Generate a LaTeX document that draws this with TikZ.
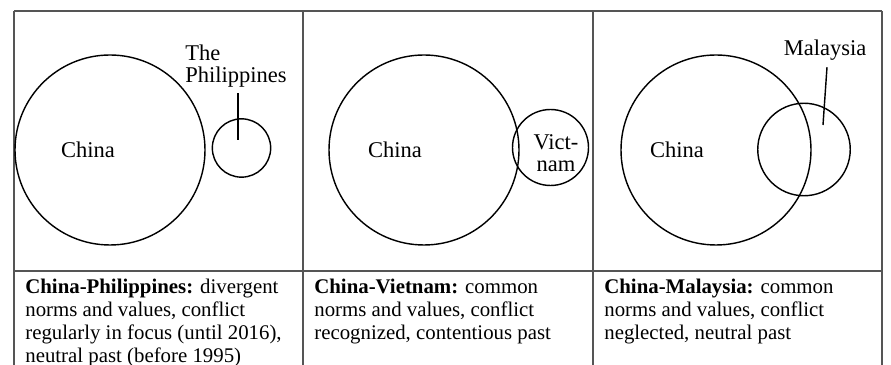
\documentclass[tikz,border=0pt]{standalone}
\usepackage{fontspec}
\setmainfont{Liberation Serif}
\usepackage{tikz}
\usetikzlibrary{positioning,calc}
\usepackage{xcolor}
\definecolor{rulegrey}{RGB}{85,85,85}

\begin{document}
\begin{tikzpicture}[
  x=0.6pt, y=-0.6pt,
  country/.style={draw, circle, line width=0.85pt, inner sep=0pt},
  tag/.style={font=\fontsize{13.5}{13}\selectfont, inner sep=1pt},
  caption/.style={anchor=north west, align=left, inner sep=0pt, font=\fontsize{12.5}{13.8}\selectfont},
  rule/.style={draw=rulegrey, line width=0.7pt},
]
  \useasboundingbox (0,0) rectangle (891,365);
  % table frame
  \foreach \x in {14,303,593,882}
    \draw[rule] (\x,11) -- (\x,365);
  \draw[rule] (14,11) -- (882,11);
  \draw[rule] (14,271) -- (882,271);

  % China - Philippines
  \node[country, minimum size=114pt] (cn1) at (110,150) {};
  \node[country, minimum size=35pt] (ph) at (241.5,148) {};
  \node[tag] (cn1lab) at (88,150) {China};
  \node[tag, align=left] (phlab) at (236,66) {The\\Philippines};
  \coordinate (phtip) at (238,140);
  \draw[line width=0.85pt] ([yshift=-2.5pt]phlab.south -| phtip) -- (phtip);
  \node[caption] (cap1) at (25,279) {\textbf{China-Philippines:} divergent\\norms and values, conflict\\regularly in focus (until 2016),\\neutral past (before 1995)};

  % China - Vietnam
  \node[country, minimum size=114pt] (cn2) at (424,150) {};
  \node[country, minimum size=45.6pt] (vn) at (550.5,147.5) {};
  \node[tag] (cn2lab) at (395,150) {China};
  \node[tag, align=center] (vnlab) at (556,153) {Vict-\\nam};
  \node[caption] (cap2) at (314,279) {\textbf{China-Vietnam:} common\\norms and values, conflict\\recognized, contentious past};

  % China - Malaysia
  \node[country, minimum size=114pt] (cn3) at (716,150) {};
  \node[country, minimum size=55.5pt] (my) at (804,149.5) {};
  \node[tag] (cn3lab) at (677,150) {China};
  \node[tag] (mylab) at (825,50) {Malaysia};
  \coordinate (mytip) at (823,125);
  \draw[line width=0.85pt] ([xshift=1.2pt,yshift=-3pt]mylab.south) -- (mytip);
  \node[caption] (cap3) at (604,279) {\textbf{China-Malaysia:} common\\norms and values, conflict\\neglected, neutral past};
\end{tikzpicture}
\end{document}
